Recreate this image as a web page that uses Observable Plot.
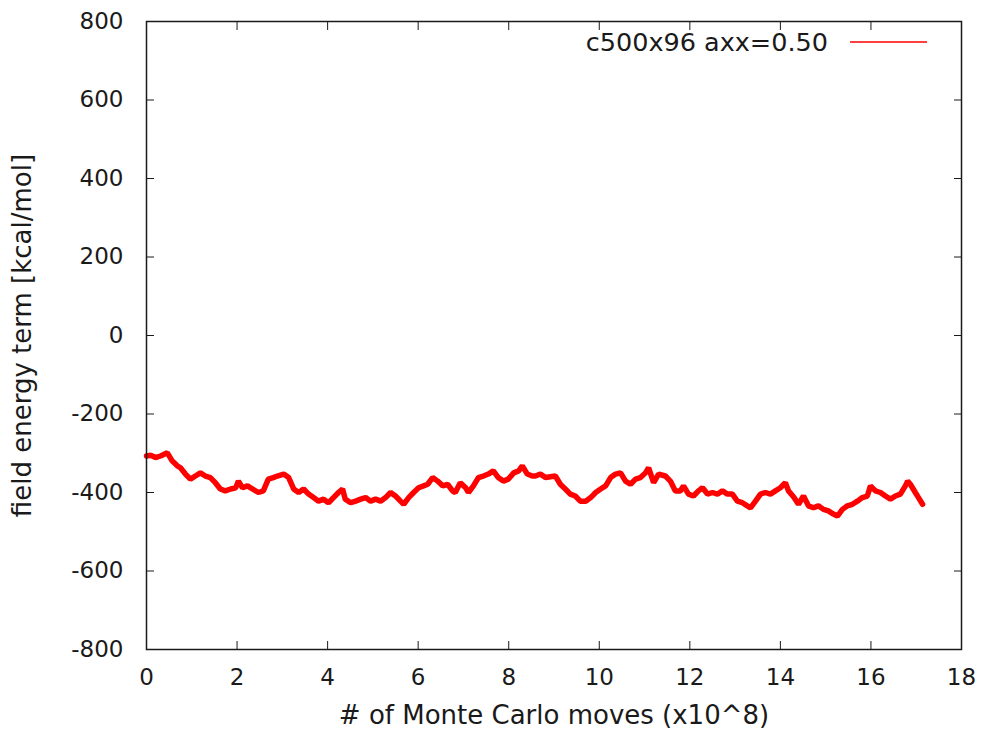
<!DOCTYPE html>
<html>
<head>
<meta charset="utf-8">
<script src="https://cdn.jsdelivr.net/npm/d3@7"></script>
<script src="https://cdn.jsdelivr.net/npm/@observablehq/plot@0.6"></script>
<style>
  html, body { margin: 0; padding: 0; background: #fff; }
</style>
</head>
<body>
<div id="chart"></div>
<script>
// Monte Carlo moves (units of 10^8)
const moves = [
  0.00, 0.09, 0.20, 0.31, 0.46, 0.57, 0.68, 0.75, 0.86, 0.97,
  1.08, 1.19, 1.30, 1.41, 1.52, 1.63, 1.74, 1.86, 1.97, 2.03,
  2.12, 2.23, 2.34, 2.47, 2.58, 2.69, 2.80, 2.89, 3.03, 3.14,
  3.25, 3.36, 3.47, 3.58, 3.69, 3.80, 3.91, 4.02, 4.13, 4.24,
  4.33, 4.39, 4.51, 4.62, 4.73, 4.84, 4.95, 5.06, 5.17, 5.28,
  5.39, 5.50, 5.61, 5.68, 5.79, 5.90, 6.01, 6.12, 6.21, 6.32,
  6.43, 6.54, 6.65, 6.76, 6.82, 6.93, 7.05, 7.11, 7.22, 7.33,
  7.44, 7.55, 7.66, 7.77, 7.88, 7.99, 8.11, 8.22, 8.30, 8.41,
  8.52, 8.59, 8.70, 8.81, 8.92, 9.03, 9.14, 9.25, 9.36, 9.47,
  9.58, 9.70, 9.81, 9.92, 10.03, 10.14, 10.25, 10.36, 10.47, 10.58,
  10.69, 10.80, 10.91, 11.02, 11.09, 11.20, 11.31, 11.46, 11.57, 11.68,
  11.79, 11.86, 11.97, 12.08, 12.19, 12.28, 12.39, 12.50, 12.61, 12.72,
  12.83, 12.94, 13.05, 13.16, 13.27, 13.34, 13.45, 13.56, 13.67, 13.78,
  13.89, 14.00, 14.11, 14.18, 14.29, 14.40, 14.51, 14.62, 14.73, 14.84,
  14.95, 15.06, 15.17, 15.26, 15.37, 15.48, 15.59, 15.70, 15.81, 15.92,
  15.99, 16.10, 16.21, 16.32, 16.43, 16.54, 16.65, 16.76, 16.81, 16.87,
  16.98, 17.05, 17.14
];

// field energy term [kcal/mol]
const energy = [
  -307, -305, -311, -307, -299, -320, -332, -337, -353, -366,
  -358, -350, -358, -362, -375, -391, -396, -391, -388, -371,
  -388, -383, -391, -400, -396, -366, -362, -358, -353, -362,
  -391, -400, -391, -404, -413, -422, -417, -426, -413, -400,
  -391, -417, -426, -422, -417, -413, -422, -417, -422, -413,
  -400, -409, -422, -430, -413, -400, -388, -383, -379, -362,
  -371, -383, -379, -396, -400, -375, -388, -400, -383, -362,
  -358, -353, -345, -362, -371, -366, -350, -345, -332, -353,
  -358, -358, -353, -362, -360, -358, -379, -391, -404, -409,
  -422, -422, -413, -400, -391, -383, -362, -353, -350, -371,
  -379, -366, -362, -350, -337, -375, -353, -358, -371, -396,
  -396, -383, -404, -409, -396, -388, -404, -400, -404, -396,
  -404, -404, -422, -426, -434, -439, -422, -404, -400, -404,
  -396, -388, -375, -396, -411, -430, -409, -434, -439, -434,
  -443, -447, -455, -460, -443, -434, -430, -422, -413, -409,
  -383, -396, -400, -409, -417, -409, -404, -383, -371, -379,
  -400, -413, -430
];

const xTicks = [0, 2, 4, 6, 8, 10, 12, 14, 16, 18];
const yTicks = [-800, -600, -400, -200, 0, 200, 400, 600, 800];

const seriesName = "c500x96 axx=0.50";
const xTitle = "# of Monte Carlo moves (x10^8)";
const yTitle = "field energy term [kcal/mol]";

const data = moves.map((m, i) => ({moves: m, energy: energy[i]}));

const ink = "#1a1a1a";
const tick = 8;
const plain = d => String(d); // ASCII hyphen for negatives

// key entry in the top-right corner: label followed by a red sample line
function legend(index, scales, values, dims) {
  const right = dims.width - dims.marginRight;
  const cy = dims.marginTop + 21;
  const g = d3.create("svg:g");
  g.append("text")
    .attr("x", right - 133)
    .attr("y", cy)
    .attr("dy", "0.36em")
    .attr("text-anchor", "end")
    .attr("fill", ink)
    .attr("font-size", 25.5)
    .text(seriesName);
  g.append("line")
    .attr("x1", right - 111).attr("x2", right - 34)
    .attr("y1", cy).attr("y2", cy)
    .attr("stroke", "red")
    .attr("stroke-width", 1.5);
  return g.node();
}

const chart = Plot.plot({
  width: 981,
  height: 736,
  marginLeft: 146,
  marginTop: 21,
  marginRight: 20,
  marginBottom: 87,
  x: {domain: [0, 18]},
  y: {domain: [-800, 800]},
  style: {fontFamily: "DejaVu Sans", fontSize: "23px", color: ink, background: "#fff"},
  marks: [
    // tick labels
    Plot.axisX({ticks: xTicks, tickFormat: plain, tickSize: 0, tickPadding: 19, stroke: "none", label: null, fill: ink}),
    Plot.axisY({ticks: yTicks, tickFormat: plain, tickSize: 0, tickPadding: 23, stroke: "none", label: null, fill: ink}),
    // inward tick marks on all four sides
    Plot.axisX({ticks: xTicks, anchor: "bottom", tickSize: tick, dy: -tick, fill: "none", stroke: ink, label: null}),
    Plot.axisX({ticks: xTicks, anchor: "top", tickSize: tick, dy: tick, fill: "none", stroke: ink, label: null}),
    Plot.axisY({ticks: yTicks, anchor: "left", tickSize: tick, dx: tick, fill: "none", stroke: ink, label: null}),
    Plot.axisY({ticks: yTicks, anchor: "right", tickSize: tick, dx: -tick, fill: "none", stroke: ink, label: null}),
    Plot.line(data, {x: "moves", y: "energy", stroke: "red", strokeWidth: 5.5, strokeLinejoin: "miter"}),
    Plot.frame({stroke: ink, strokeWidth: 1.5}),
    // axis titles
    Plot.text([xTitle], {frameAnchor: "bottom", dy: 74, text: d => d, fill: ink, fontSize: 26}),
    Plot.text([yTitle], {frameAnchor: "left", dx: -124, rotate: -90, textAnchor: "middle", text: d => d, fill: ink, fontSize: 26}),
    legend
  ]
});

document.getElementById("chart").append(chart);
</script>
</body>
</html>
